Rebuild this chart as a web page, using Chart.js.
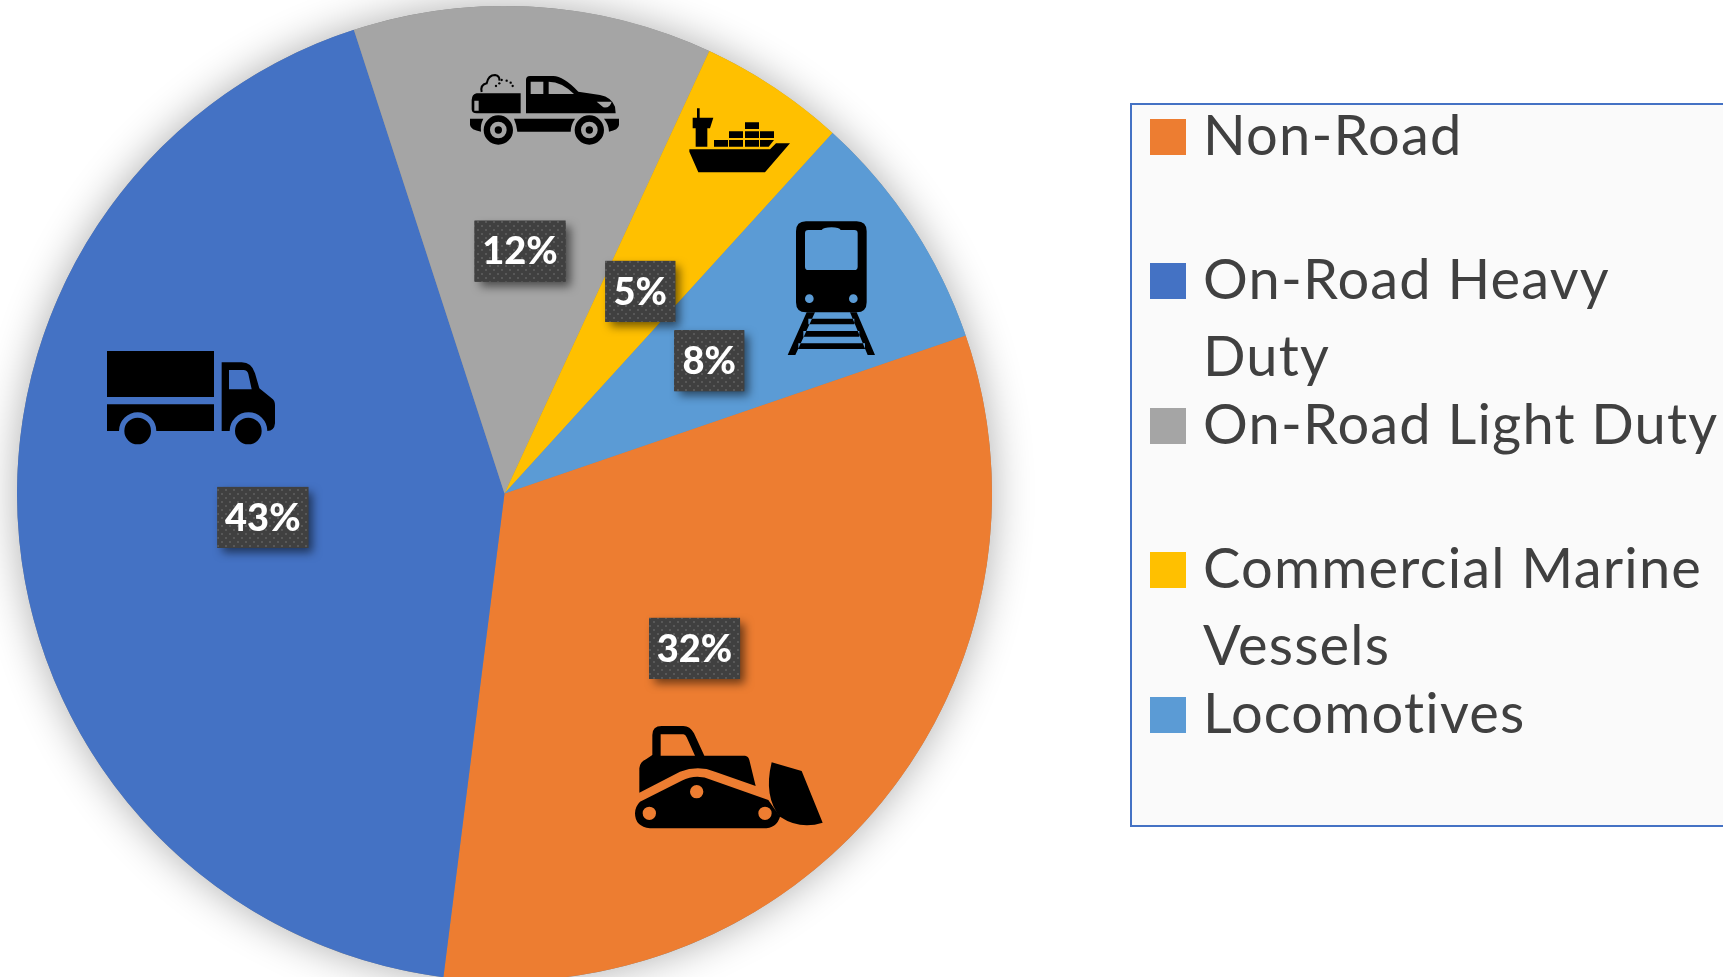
<!DOCTYPE html>
<html>
<head>
<meta charset="utf-8">
<title>Emissions by source</title>
<script src="https://cdn.jsdelivr.net/npm/chart.js@4"></script>
<style>
    html, body { margin: 0; height: 100%; background: #fff; overflow: hidden; }
    #chart { position: absolute; left: 0; top: 0; }
    #legend {
        position: absolute; left: 1130px; top: 103px; width: 600px; height: 724px;
        background: #fafafa; border: 2px solid #4472c4; box-sizing: border-box;
        font-family: Lato, sans-serif; color: #404040;
    }
    .row { position: absolute; left: 0; width: 100%; }
    .swatch { position: absolute; left: 18px; top: 14px; width: 36px; height: 36px; }
    .text {
        position: absolute; left: 71px; top: -10px; width: 520px;
        font-size: 56px; line-height: 77px; letter-spacing: 1.2px; white-space: pre;
    }
</style>
</head>
<body>
<canvas id="chart" width="1723" height="987"></canvas>
<div id="legend"></div>
<script>
const categories = ["Non-Road", "On-Road Heavy Duty", "On-Road Light Duty", "Commercial Marine Vessels", "Locomotives"];
const legendLines = ["Non-Road", "On-Road Heavy\nDuty", "On-Road Light Duty", "Commercial Marine\nVessels", "Locomotives"];
const shares = [32.25, 43, 11.9, 4.85, 8];
const colors = ["#ed7d31", "#4472c4", "#a5a5a5", "#ffc000", "#5b9bd5"];

const LEGEND_STEP = 144.4;

// Icons are traced at 3x, each with its own origin on the page
const icons = [
    { // bulldozer
        x: 620, y: 600,
        path: "M58,578 L58,505 Q60,485 78,478 L97,465 V405 Q97,378 125,378 H190 Q210,378 222,400 L253,467 H375 Q385,468 388,480 L407,558 L285,515 Q235,495 180,515 Z " +
              "M122,403 H190 Q196,403 200,412 L225,467 H122 Z " +
              "M60,605 L185,542 Q230,520 275,540 L445,600 L480,650 Q470,685 430,685 H90 Q45,680 45,640 Q45,620 60,605 Z " +
              "M68,640 a20,20 0 1 0 40,0 a20,20 0 1 0 -40,0 Z M415,640 a20,20 0 1 0 40,0 a20,20 0 1 0 -40,0 Z M210,575 a20,20 0 1 0 40,0 a20,20 0 1 0 -40,0 Z " +
              "M455,487 L545,513 L608,668 Q540,690 480,650 Q430,590 455,487 Z"
    },
    { // box truck
        x: 90, y: 330,
        path: "M51,63 H372 V201 H51 Z " +
              "M51,223 H372 V303 H199 A56,56 0 0 0 87,303 H51 Z " +
              "M103,303 a40,40 0 1 0 80,0 a40,40 0 1 0 -80,0 Z " +
              "M395,97 H455 Q485,97 495,130 L508,175 L545,205 Q555,212 555,225 V280 Q553,303 532,303 A56,56 0 0 0 419,303 H395 Z " +
              "M417,120 H460 Q472,120 475,132 L485,178 H417 Z " +
              "M435,303 a40,40 0 1 0 80,0 a40,40 0 1 0 -80,0 Z"
    },
    { // pickup
        x: 420, y: 50,
        path: "M155,150 Q156,132 170,130 H302 V190 H170 Q155,190 155,178 Z M163,152 V182 H176 V152 Z " +
              "M318,190 V90 Q318,78 330,78 H400 Q430,78 475,125 L540,135 Q575,142 585,170 L587,190 Z " +
              "M332,95 V132 H370 V95 Z M386,95 V132 H462 Q425,95 386,95 Z M530,155 H575 Q570,175 550,172 Z " +
              "M150,206 H190 Q180,225 183,245 Q152,240 150,225 Z M282,206 H465 Q452,225 452,245 H292 Q290,225 282,206 Z M552,206 H597 V225 Q595,240 567,245 Q567,225 552,206 Z " +
              "M191,240 a44,44 0 1 0 88,0 a44,44 0 1 0 -88,0 Z M210,240 a25,25 0 1 0 50,0 a25,25 0 1 0 -50,0 Z M224,240 a11,11 0 1 0 22,0 a11,11 0 1 0 -22,0 Z " +
              "M464,240 a44,44 0 1 0 88,0 a44,44 0 1 0 -88,0 Z M483,240 a25,25 0 1 0 50,0 a25,25 0 1 0 -50,0 Z M497,240 a11,11 0 1 0 22,0 a11,11 0 1 0 -22,0 Z",
        stroke: "M185,126 Q180,105 200,100 Q205,75 225,75 Q240,78 238,92",
        dots: [[228, 108], [238, 100], [245, 90], [260, 92], [272, 98], [278, 108]]
    },
    { // cargo ship
        x: 420, y: 50,
        path: "M831,175 H839 V203 H880 L870,235 H862 V290 H827 V235 H818 V203 H831 Z " +
              "M882,270 h42 v20 h-42 Z M927,270 h42 v20 h-42 Z M975,270 h42 v20 h-42 Z M1020,270 h42 l-16,20 h-26 Z " +
              "M927,244 h42 v20 h-42 Z M975,244 h42 v20 h-42 Z M1020,244 h42 v20 h-42 Z M975,217 h42 v20 h-42 Z " +
              "M808,305 V298 H1050 L1068,280 H1110 L1035,367 H835 Z"
    },
    { // train
        x: 420, y: 50,
        path: "M1158,514 H1310 Q1340,514 1340,544 V757 Q1340,787 1310,787 H1158 Q1128,787 1128,757 V544 Q1128,514 1158,514 Z " +
              "M1165,540 H1205 Q1210,532 1235,532 Q1258,532 1262,540 H1303 Q1313,540 1313,550 V650 Q1313,660 1303,660 H1165 Q1155,660 1155,650 V550 Q1155,540 1165,540 Z " +
              "M1155,746 a13,13 0 1 0 26,0 a13,13 0 1 0 -26,0 Z M1287,746 a13,13 0 1 0 26,0 a13,13 0 1 0 -26,0 Z",
        extra: "M1160,787 L1103,915 H1126 L1185,787 Z M1290,787 L1343,915 H1365 L1310,787 Z " +
               "M1165,806 H1303 V823 H1165 Z M1150,843 H1318 V860 H1150 Z M1135,880 H1335 V897 H1135 Z"
    }
];

function dotPattern(ctx) {
    const tile = document.createElement("canvas");
    tile.width = tile.height = 8;
    const t = tile.getContext("2d");
    t.fillStyle = "#404040";
    t.fillRect(0, 0, 8, 8);
    t.fillStyle = "#585858";
    t.fillRect(1, 1, 2, 2);
    t.fillRect(5, 5, 2, 2);
    return ctx.createPattern(tile, "repeat");
}

// Soft shadow behind the whole pie
const pieShadow = {
    id: "pieShadow",
    beforeDatasetsDraw(chart) {
        const arc = chart.getDatasetMeta(0).data[0];
        const ctx = chart.ctx;
        ctx.save();
        ctx.shadowColor = "rgba(0,0,0,0.32)";
        ctx.shadowBlur = 42;
        ctx.fillStyle = "#888";
        ctx.beginPath();
        ctx.arc(arc.x, arc.y, arc.outerRadius, 0, Math.PI * 2);
        ctx.fill();
        ctx.restore();
    }
};

const iconLayer = {
    id: "iconLayer",
    afterDatasetsDraw(chart) {
        const ctx = chart.ctx;
        icons.forEach(icon => {
            ctx.save();
            ctx.translate(icon.x, icon.y);
            ctx.scale(1 / 3, 1 / 3);
            ctx.fillStyle = "#000";
            ctx.fill(new Path2D(icon.path), "evenodd");
            if (icon.extra) ctx.fill(new Path2D(icon.extra));
            if (icon.stroke) {
                ctx.lineWidth = 6;
                ctx.stroke(new Path2D(icon.stroke));
            }
            (icon.dots || []).forEach(d => {
                ctx.beginPath();
                ctx.arc(d[0], d[1], 3.5, 0, Math.PI * 2);
                ctx.fill();
            });
            ctx.restore();
        });
    }
};

// Percent tags sit on the middle of each slice
const percentTags = {
    id: "percentTags",
    afterDraw(chart) {
        const ctx = chart.ctx;
        const pattern = dotPattern(ctx);
        ctx.font = "900 38px Lato, sans-serif";
        ctx.textAlign = "center";
        ctx.textBaseline = "middle";
        chart.getDatasetMeta(0).data.forEach((arc, i) => {
            const p = arc.getCenterPoint();
            const x = p.x + 1;
            const y = p.y + 1;
            const label = Math.round(shares[i]) + "%";
            const w = label.length > 2 ? 91 : 70;
            const h = 61;
            ctx.save();
            ctx.shadowColor = "rgba(0,0,0,0.55)";
            ctx.shadowBlur = 9;
            ctx.shadowOffsetX = 5;
            ctx.shadowOffsetY = 5;
            ctx.fillStyle = "#404040";
            ctx.fillRect(x - w / 2, y - h / 2, w, h);
            ctx.restore();
            ctx.fillStyle = pattern;
            ctx.fillRect(x - w / 2, y - h / 2, w, h);
            ctx.fillStyle = "#fff";
            ctx.fillText(label, x, y + 1);
        });
    }
};

new Chart(document.getElementById("chart"), {
    type: "pie",
    data: {
        labels: categories,
        datasets: [{
            data: shares,
            backgroundColor: colors,
            borderWidth: 0
        }]
    },
    options: {
        responsive: false,
        animation: false,
        rotation: 71.1,
        layout: { padding: { left: 17, top: 6, right: 731, bottom: 6 } },
        plugins: {
            legend: { display: false },
            tooltip: { enabled: false }
        }
    },
    plugins: [pieShadow, iconLayer, percentTags]
});

// Legend is plain HTML so the labels can wrap like the original
const legend = document.getElementById("legend");
legendLines.forEach((text, i) => {
    const row = document.createElement("div");
    row.className = "row";
    row.style.top = (i * LEGEND_STEP) + "px";
    row.innerHTML = `<div class="swatch" style="background:${colors[i]}"></div><div class="text">${text}</div>`;
    legend.appendChild(row);
});
</script>
</body>
</html>
